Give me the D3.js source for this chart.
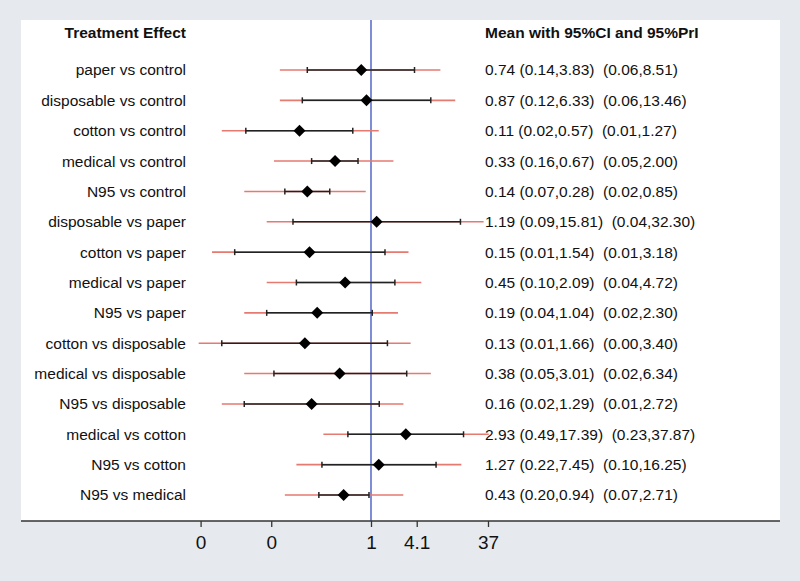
<!DOCTYPE html>
<html>
<head>
<meta charset="utf-8">
<script src="https://cdn.jsdelivr.net/npm/d3@7"></script>
<style>
  html, body { margin: 0; padding: 0; background: #e6eaee; }
  svg { display: block; }
  text { font-family: "Liberation Sans", Arial, Helvetica, sans-serif; fill: #111; }
</style>
</head>
<body>
<svg id="chart" width="800" height="581"></svg>
<script>
const categories = [
  "paper vs control", "disposable vs control", "cotton vs control", "medical vs control", "N95 vs control",
  "disposable vs paper", "cotton vs paper", "medical vs paper", "N95 vs paper",
  "cotton vs disposable", "medical vs disposable", "N95 vs disposable",
  "medical vs cotton", "N95 vs cotton", "N95 vs medical"
];
const mean    = [0.74, 0.87, 0.11, 0.33, 0.14, 1.19, 0.15, 0.45, 0.19, 0.13, 0.38, 0.16, 2.93, 1.27, 0.43];
const ciLow   = [0.14, 0.12, 0.021, 0.16, 0.07, 0.09, 0.0149, 0.10, 0.04, 0.01, 0.05, 0.02, 0.49, 0.22, 0.20];
const ciHigh  = [3.83, 6.33, 0.57, 0.67, 0.28, 15.81, 1.54, 2.09, 1.04, 1.66, 3.01, 1.29, 17.39, 7.45, 0.94];
const priLow  = [0.06, 0.06, 0.01, 0.05, 0.02, 0.04, 0.0074, 0.04, 0.02, 0.0049, 0.02, 0.01, 0.23, 0.10, 0.07];
const priHigh = [8.51, 13.46, 1.27, 2.00, 0.85, 32.30, 3.18, 4.72, 2.30, 3.40, 6.34, 2.72, 37.87, 16.25, 2.71];
const tickValues = [0.0052, 0.046, 1, 4.1, 37];
const tickLabels = ["0", "0", "1", "4.1", "37"];
const headerLeft = "Treatment Effect";
const headerRight = "Mean with 95%CI and 95%PrI";

const svg = d3.select("#chart");
const panel = { left: 21, right: 780, top: 20, bottom: 521 };
const fs = 15.5;

svg.append("rect")
  .attr("x", panel.left).attr("y", panel.top)
  .attr("width", panel.right - panel.left).attr("height", panel.bottom - panel.top)
  .attr("fill", "#ffffff");

const x = d3.scaleLog().domain([1, 37]).range([371, 488]);
const y = d3.scalePoint().domain(categories).range([70, 495]);

const data = categories.map((c, i) => ({
  c, m: mean[i], lo: ciLow[i], hi: ciHigh[i], plo: priLow[i], phi: priHigh[i]
}));

// headers
svg.append("text").attr("x", 186).attr("y", 33).attr("dy", "0.35em")
  .attr("text-anchor", "end").attr("font-size", fs).attr("font-weight", "bold")
  .text(headerLeft);
svg.append("text").attr("x", 485).attr("y", 33).attr("dy", "0.35em")
  .attr("font-size", fs).attr("font-weight", "bold")
  .text(headerRight);

// reference line
svg.append("line")
  .attr("x1", x(1)).attr("x2", x(1))
  .attr("y1", panel.top).attr("y2", panel.bottom)
  .attr("stroke", "#3a4fbf").attr("stroke-width", 1.3);

const rows = svg.append("g").selectAll("g").data(data).join("g")
  .attr("transform", d => `translate(0,${y(d.c)})`);

// prediction interval (red)
rows.append("line")
  .attr("x1", d => x(d.plo)).attr("x2", d => x(d.phi))
  .attr("stroke", "#e47a70").attr("stroke-width", 1.6);

// confidence interval (black)
rows.append("line")
  .attr("x1", d => x(d.lo)).attr("x2", d => x(d.hi))
  .attr("stroke", "#222").attr("stroke-width", 1.5);
rows.append("line")
  .attr("x1", d => x(d.lo)).attr("x2", d => x(d.lo))
  .attr("y1", -3).attr("y2", 3)
  .attr("stroke", "#222").attr("stroke-width", 1.5);
rows.append("line")
  .attr("x1", d => x(d.hi)).attr("x2", d => x(d.hi))
  .attr("y1", -3).attr("y2", 3)
  .attr("stroke", "#222").attr("stroke-width", 1.5);

// diamond
rows.append("path")
  .attr("d", d => {
    const cx = x(d.m);
    return `M${cx - 6},0L${cx},-6L${cx + 6},0L${cx},6Z`;
  })
  .attr("fill", "#000");

// labels
rows.append("text")
  .attr("x", 186).attr("dy", "0.35em")
  .attr("text-anchor", "end").attr("font-size", fs)
  .text(d => d.c);

rows.append("text")
  .attr("x", 485).attr("dy", "0.35em")
  .attr("font-size", fs)
  .attr("xml:space", "preserve")
  .style("white-space", "pre")
  .text(d => `${d.m.toFixed(2)} (${d.lo.toFixed(2)},${d.hi.toFixed(2)})  (${d.plo.toFixed(2)},${d.phi.toFixed(2)})`);

// axis
svg.append("line")
  .attr("x1", panel.left).attr("x2", panel.right)
  .attr("y1", panel.bottom).attr("y2", panel.bottom)
  .attr("stroke", "#333").attr("stroke-width", 1.5);

const axis = d3.axisBottom(x)
  .tickValues(tickValues)
  .tickFormat((d, i) => tickLabels[i])
  .tickSize(6)
  .tickPadding(9);

const ag = svg.append("g").attr("transform", `translate(0,${panel.bottom})`).call(axis);
ag.select(".domain").remove();
ag.selectAll(".tick line").attr("stroke", "#333").attr("stroke-width", 1.3);
ag.selectAll(".tick text")
  .attr("font-size", 19)
  .attr("font-family", "'Liberation Sans', Arial, Helvetica, sans-serif")
  .attr("fill", "#111");
</script>
</body>
</html>
